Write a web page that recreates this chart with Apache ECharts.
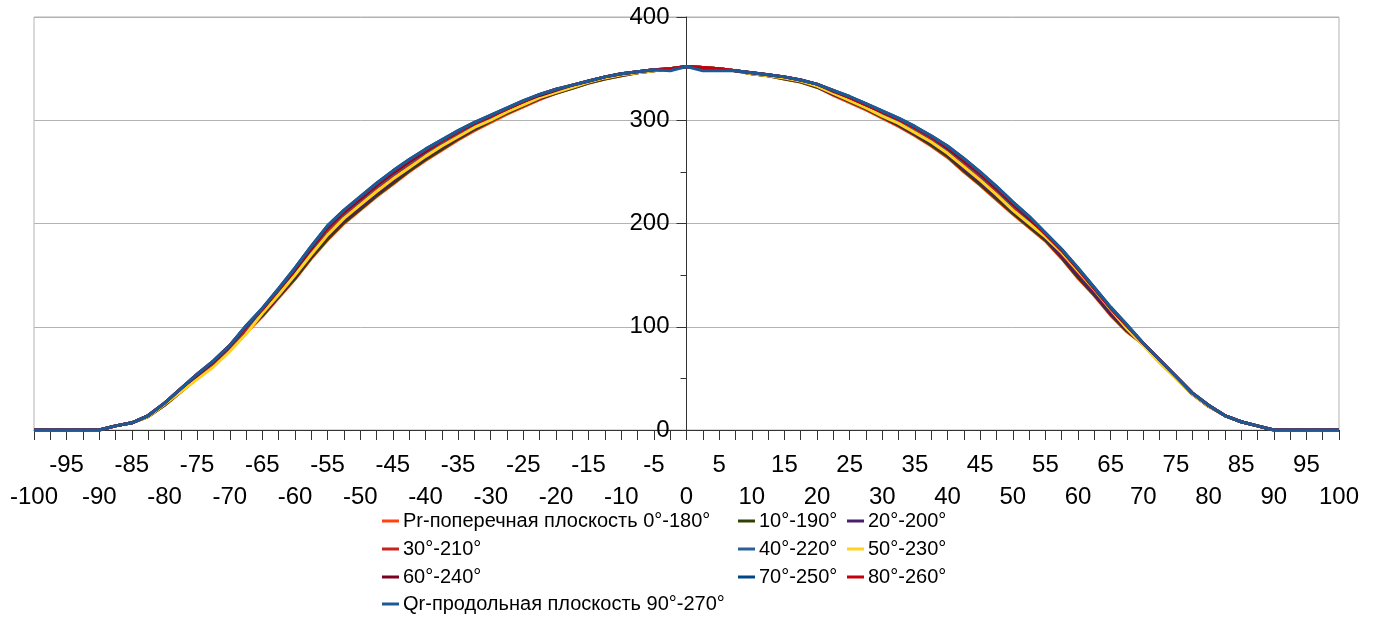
<!DOCTYPE html>
<html>
<head>
<meta charset="utf-8">
<script src="https://cdn.jsdelivr.net/npm/echarts@6/dist/echarts.min.js"></script>
<style>
    html, body { margin: 0; padding: 0; background: #fff; }
    #chart { width: 1380px; height: 621px; }
</style>
</head>
<body>
<div id="chart"></div>
<script>
// угол, градусы
var angles = [-100, -97.5, -95, -92.5, -90, -87.5, -85, -82.5, -80, -77.5, -75, -72.5, -70, -67.5, -65, -62.5, -60, -57.5, -55, -52.5,
    -50, -47.5, -45, -42.5, -40, -37.5, -35, -32.5, -30, -27.5, -25, -22.5, -20, -17.5, -15, -12.5, -10, -7.5, -5, -2.5,
    0, 2.5, 5, 7.5, 10, 12.5, 15, 17.5, 20, 22.5, 25, 27.5, 30, 32.5, 35, 37.5, 40, 42.5, 45, 47.5,
    50, 52.5, 55, 57.5, 60, 62.5, 65, 67.5, 70, 72.5, 75, 77.5, 80, 82.5, 85, 87.5, 90, 92.5, 95, 97.5, 100];

var pr = [0, 0, 0, 0, 0, 4, 7, 13, 24, 37, 50, 63, 78, 94, 110, 128, 146, 166, 184, 200, 213, 226, 238, 250, 261, 271, 281, 290, 298, 306, 313, 320, 326, 331, 336, 340, 343, 346, 348, 350,
    352, 351, 350, 348, 345, 343, 340, 337, 332, 324, 317, 310, 302, 294, 285, 275, 264, 250, 237, 223, 209, 196, 183, 166, 147, 130, 111, 95, 83, 67, 51, 35, 23, 14, 8, 4, 0, 0, 0, 0, 0];
var s10 = [0, 0, 0, 0, 0, 4, 7, 13, 24, 37, 50, 63, 78, 95, 111, 129, 147, 167, 185, 201, 214, 227, 239, 251, 262, 272, 282, 291, 299, 307, 314, 321, 326, 331, 336, 340, 343, 346, 348, 350,
    352, 351, 350, 348, 345, 343, 340, 337, 332, 325, 318, 311, 303, 295, 286, 276, 265, 251, 238, 224, 210, 197, 184, 167, 148, 131, 112, 96, 83, 67, 51, 35, 23, 14, 8, 4, 0, 0, 0, 0, 0];
var s20 = [0, 0, 0, 0, 0, 4, 7, 13, 25, 38, 51, 64, 79, 96, 112, 130, 149, 169, 188, 203, 216, 229, 241, 253, 264, 274, 283, 292, 300, 308, 315, 321, 327, 332, 337, 341, 344, 346, 348, 350,
    352, 351, 350, 348, 345, 343, 341, 338, 333, 325, 319, 312, 304, 296, 287, 278, 267, 253, 240, 226, 212, 199, 186, 168, 150, 132, 113, 97, 83, 67, 51, 35, 23, 14, 8, 4, 0, 0, 0, 0, 0];
var s30 = [0, 0, 0, 0, 0, 4, 7, 14, 25, 39, 52, 65, 80, 98, 115, 133, 153, 173, 192, 208, 221, 234, 246, 257, 268, 277, 286, 295, 302, 310, 317, 323, 328, 333, 337, 341, 344, 347, 349, 350,
    352, 351, 350, 348, 346, 344, 341, 338, 334, 327, 321, 314, 306, 299, 290, 281, 271, 258, 245, 231, 216, 203, 189, 171, 153, 135, 116, 99, 84, 68, 52, 36, 24, 14, 8, 4, 0, 0, 0, 0, 0];
var s40 = [0, 0, 0, 0, 0, 4, 7, 14, 26, 39, 53, 66, 81, 99, 116, 135, 154, 175, 195, 210, 223, 236, 248, 259, 269, 279, 288, 296, 303, 311, 318, 324, 329, 333, 338, 342, 345, 347, 349, 350,
    352, 351, 350, 348, 346, 344, 342, 339, 334, 328, 322, 315, 307, 300, 292, 283, 272, 260, 247, 233, 218, 204, 190, 173, 155, 136, 117, 100, 84, 68, 52, 36, 24, 14, 8, 4, 0, 0, 0, 0, 0];
var s50 = [0, 0, 0, 0, 0, 4, 7, 13, 25, 37, 49, 61, 76, 93, 113, 131, 150, 170, 189, 205, 218, 231, 243, 254, 265, 275, 284, 293, 300, 308, 315, 322, 327, 332, 337, 341, 344, 346, 348, 350,
    352, 351, 350, 348, 345, 343, 341, 338, 333, 326, 319, 312, 304, 297, 288, 279, 268, 255, 242, 228, 213, 200, 187, 172, 154, 136, 117, 98, 82, 65, 50, 35, 23, 14, 8, 4, 0, 0, 0, 0, 0];
var s60 = [0, 0, 0, 0, 0, 4, 7, 14, 26, 40, 53, 66, 81, 100, 117, 136, 155, 176, 196, 211, 224, 237, 249, 260, 270, 280, 289, 297, 304, 311, 318, 324, 329, 334, 338, 342, 345, 347, 349, 350,
    352, 351, 350, 348, 346, 344, 342, 339, 335, 328, 322, 315, 308, 301, 293, 284, 273, 261, 248, 234, 219, 205, 190, 174, 156, 137, 118, 101, 84, 68, 52, 36, 24, 14, 8, 4, 0, 0, 0, 0, 0];
var s70 = [0, 0, 0, 0, 0, 4, 7, 14, 26, 40, 54, 67, 82, 101, 118, 137, 157, 178, 198, 213, 226, 239, 251, 262, 272, 281, 290, 298, 305, 312, 319, 325, 330, 334, 338, 342, 345, 347, 349, 349,
    352, 350, 349, 348, 346, 344, 342, 339, 335, 329, 323, 316, 309, 302, 294, 285, 275, 263, 250, 236, 221, 207, 191, 175, 157, 138, 119, 102, 84, 68, 52, 36, 24, 14, 8, 4, 0, 0, 0, 0, 0];
var s80 = [0, 0, 0, 0, 0, 4, 7, 14, 26, 40, 54, 67, 82, 100, 117, 136, 156, 177, 197, 212, 225, 238, 250, 261, 271, 280, 289, 297, 304, 311, 318, 325, 330, 334, 338, 342, 345, 347, 349, 350,
    352, 351, 350, 348, 346, 344, 342, 339, 335, 329, 322, 315, 308, 301, 293, 284, 274, 262, 249, 235, 220, 206, 190, 174, 156, 137, 118, 101, 84, 68, 52, 36, 24, 14, 8, 4, 0, 0, 0, 0, 0];
var qr = [0, 0, 0, 0, 0, 4, 7, 14, 26, 40, 54, 67, 82, 101, 118, 137, 157, 178, 198, 213, 226, 239, 251, 262, 272, 281, 290, 298, 305, 312, 319, 325, 330, 334, 338, 342, 345, 347, 349, 348,
    352, 348, 348, 348, 346, 344, 342, 339, 335, 329, 323, 316, 309, 302, 294, 285, 275, 263, 250, 236, 221, 207, 191, 175, 157, 138, 119, 102, 84, 68, 52, 36, 24, 14, 8, 4, 0, 0, 0, 0, 0];

var seriesNames = ['Pr-поперечная плоскость 0°-180°', '10°-190°', '20°-200°', '30°-210°', '40°-220°',
    '50°-230°', '60°-240°', '70°-250°', '80°-260°', 'Qr-продольная плоскость 90°-270°'];
var seriesValues = [pr, s10, s20, s30, s40, s50, s60, s70, s80, qr];
var seriesColors = ['#ff420e', '#314004', '#4b1f6f', '#c9211e', '#2a6099', '#ffd320', '#7e0021', '#004586', '#c5000b', '#1c5a96'];

var fontName = 'Liberation Sans';

// легенда: три колонки как в исходнике
var legendSpots = [[382, 511], [738, 511], [847, 511], [382, 539], [738, 539], [847, 539],
    [382, 567], [738, 567], [847, 567], [382, 594]];

var gridLeft = 34;
var gridRight = 41;
var plotWidth = 1380 - gridLeft - gridRight;

var series = [];
var legends = [];
for (var i = 0; i < seriesNames.length; i++) {
    var pts = [];
    for (var j = 0; j < angles.length; j++) {
        pts.push([angles[j], seriesValues[i][j]]);
    }
    series.push({
        name: seriesNames[i],
        type: 'line',
        symbol: 'none',
        animation: false,
        lineStyle: { width: 3, color: seriesColors[i] },
        itemStyle: { color: seriesColors[i] },
        data: pts
    });
    legends.push({
        data: [seriesNames[i]],
        left: legendSpots[i][0],
        top: legendSpots[i][1],
        icon: 'rect',
        itemWidth: 17,
        itemHeight: 3,
        itemGap: 0,
        padding: 0,
        textStyle: { color: '#000', fontSize: 20, fontFamily: fontName, padding: [0, 0, 0, -1] }
    });
}

var myChart = echarts.init(document.getElementById('chart'));
var option = {
    backgroundColor: '#fff',
    legend: legends,
    grid: {
        left: gridLeft,
        right: gridRight,
        top: 17,
        bottom: 191,
        outerBoundsMode: 'none',
        containLabel: false,
        show: true,
        borderColor: '#b3b3b3',
        borderWidth: 1
    },
    xAxis: {
        type: 'value',
        min: -100,
        max: 100,
        interval: 5,
        axisLine: { onZero: false, lineStyle: { color: '#333', width: 1 } },
        axisTick: { show: true, length: 10, lineStyle: { color: '#333' } },
        minorTick: { show: true, splitNumber: 2, length: 10, lineStyle: { color: '#333' } },
        splitLine: { show: false },
        axisLabel: {
            margin: 23,
            showMinLabel: true,
            showMaxLabel: true,
            formatter: function (v) {
                return (Math.abs(v) % 10 === 0 ? '{b|' : '{a|') + v + '}';
            },
            rich: {
                a: { fontSize: 24, fontFamily: fontName, color: '#000' },
                b: { fontSize: 24, fontFamily: fontName, color: '#000', padding: [32, 0, 0, 0] }
            }
        }
    },
    yAxis: {
        type: 'value',
        min: 0,
        max: 400,
        interval: 100,
        // ось Y стоит на нуле X: сдвигаем всю ось вместе с подписями
        offset: -plotWidth / 2,
        axisLine: { show: true, onZero: false, lineStyle: { color: '#333', width: 1 } },
        axisTick: { show: true, length: 10, lineStyle: { color: '#333' } },
        minorTick: { show: true, splitNumber: 2, length: 6, lineStyle: { color: '#333' } },
        splitLine: { show: true, lineStyle: { color: '#b3b3b3', width: 1 } },
        axisLabel: { margin: 17, fontSize: 24, fontFamily: fontName, color: '#000' }
    },
    series: series
};
myChart.setOption(option);
</script>
</body>
</html>
